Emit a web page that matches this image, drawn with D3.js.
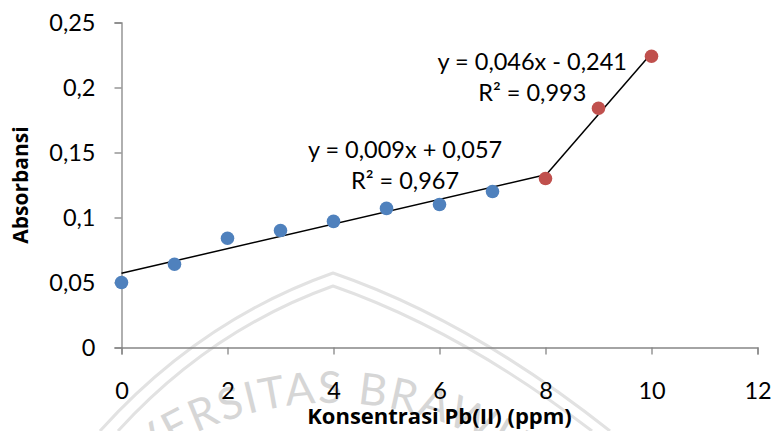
<!DOCTYPE html>
<html>
<head>
<meta charset="utf-8">
<script src="https://cdn.jsdelivr.net/npm/d3@7"></script>
<style>
  body { margin: 0; background: #fff; }
  text { font-family: Lato, "Open Sans", sans-serif; }
</style>
</head>
<body>
<svg width="773" height="431"></svg>
<script>
// data
var blueX = [0, 1, 2, 3, 4, 5, 6, 7];
var blueY = [0.050, 0.064, 0.084, 0.090, 0.097, 0.107, 0.110, 0.120];
var redX = [8, 9, 10];
var redY = [0.130, 0.184, 0.224];
var xTicks = [0, 2, 4, 6, 8, 10, 12];
var yTicks = [0, 0.05, 0.1, 0.15, 0.2, 0.25];
var yTickLabels = ['0', '0,05', '0,1', '0,15', '0,2', '0,25'];
var eqBlue = ['y = 0,009x + 0,057', 'R² = 0,967'];
var eqRed = ['y = 0,046x - 0,241', 'R² = 0,993'];

var svg = d3.select('svg');

var x = d3.scaleLinear().domain([0, 12]).range([121.5, 757.5]);
var y = d3.scaleLinear().domain([0, 0.25]).range([347.5, 22.5]);

// faint watermark in the background
var wm = svg.append('g').attr('fill', 'none').attr('stroke', '#e2e2e2').attr('stroke-width', 3);
wm.append('path').attr('d', 'M100,431 Q200,320 333,273 Q470,320 610,431');
wm.append('path').attr('d', 'M118,431 Q210,330 333,286 Q460,330 592,431');
svg.append('defs').append('path')
    .attr('id', 'wmArc')
    .attr('d', 'M10,725 A322,322 0 0 1 654,725');
svg.append('text')
    .attr('font-size', 44)
    .attr('fill', '#d6d6d6')
    .attr('letter-spacing', 2)
    .append('textPath')
    .attr('href', '#wmArc')
    .attr('startOffset', '50%')
    .attr('text-anchor', 'middle')
    .text('UNIVERSITAS BRAWIJAYA');

// axes
var gx = svg.append('g')
    .attr('transform', 'translate(0,' + y(0) + ')')
    .call(d3.axisBottom(x).tickValues(xTicks).tickSize(7).tickFormat(d3.format('d')));
var gy = svg.append('g')
    .attr('transform', 'translate(' + x(0) + ',0)')
    .call(d3.axisLeft(y).tickValues(yTicks).tickSize(7)
        .tickFormat(function(d, i) { return yTickLabels[i]; }));

[gx, gy].forEach(function(g) {
    g.select('.domain').attr('stroke', '#868686').attr('stroke-width', 1.3);
    g.selectAll('.tick line').attr('stroke', '#868686').attr('stroke-width', 1.3);
    g.selectAll('.tick text').attr('font-size', 23.5).attr('fill', '#000')
        .style('font-family', 'Lato, sans-serif');
});
gx.selectAll('.tick text').attr('y', 35).attr('dy', '0.72em');
gy.selectAll('.tick text').attr('x', -26).attr('dy', '0.36em');

// least squares fit for the trendlines
function fit(xs, ys) {
    var mx = d3.mean(xs), my = d3.mean(ys);
    var sxy = d3.sum(xs, function(v, i) { return (v - mx) * (ys[i] - my); });
    var sxx = d3.sum(xs, function(v) { return (v - mx) * (v - mx); });
    var b = sxy / sxx;
    return { b: b, a: my - b * mx };
}
var fb = fit(blueX, blueY);
var fr = fit(redX, redY);

var line = d3.line().x(function(d) { return x(d[0]); }).y(function(d) { return y(d[1]); });
svg.append('path')
    .attr('d', line([[0, fb.a], [8, fb.a + fb.b * 8]]))
    .attr('stroke', '#000').attr('stroke-width', 1.5).attr('fill', 'none');
svg.append('path')
    .attr('d', line([[8, fr.a + fr.b * 8], [10, fr.a + fr.b * 10]]))
    .attr('stroke', '#000').attr('stroke-width', 1.5).attr('fill', 'none');

// points
svg.selectAll('.blue')
    .data(blueX)
    .enter()
    .append('circle')
    .attr('class', 'blue')
    .attr('cx', function(d) { return x(d); })
    .attr('cy', function(d, i) { return y(blueY[i]); })
    .attr('r', 6.8)
    .attr('fill', '#4F81BD');

svg.selectAll('.red')
    .data(redX)
    .enter()
    .append('circle')
    .attr('class', 'red')
    .attr('cx', function(d) { return x(d); })
    .attr('cy', function(d, i) { return y(redY[i]); })
    .attr('r', 6.8)
    .attr('fill', '#C0504D');

// trendline equations
function eqLabel(lines, cx, yTop, yBot) {
    var t = svg.append('g').attr('font-size', 23.5).attr('text-anchor', 'middle');
    t.append('text').attr('x', x(cx)).attr('y', y(yTop)).text(lines[0]);
    t.append('text').attr('x', x(cx)).attr('y', y(yBot)).text(lines[1]);
}
eqLabel(eqRed, 7.75, 0.2135, 0.1896);
eqLabel(eqBlue, 5.35, 0.1458, 0.1219);

// axis titles
svg.append('text')
    .attr('x', (x(0) + x(12)) / 2)
    .attr('y', 424)
    .attr('text-anchor', 'middle')
    .attr('font-size', 22)
    .attr('font-weight', 'bold')
    .style('font-family', '"Open Sans", sans-serif')
    .text('Konsentrasi Pb(II) (ppm)');

svg.append('text')
    .attr('transform', 'translate(28,' + (y(0) + y(0.25)) / 2 + ') rotate(-90)')
    .attr('text-anchor', 'middle')
    .attr('font-size', 21)
    .attr('font-weight', 'bold')
    .style('font-family', '"Open Sans", sans-serif')
    .text('Absorbansi');
</script>
</body>
</html>
